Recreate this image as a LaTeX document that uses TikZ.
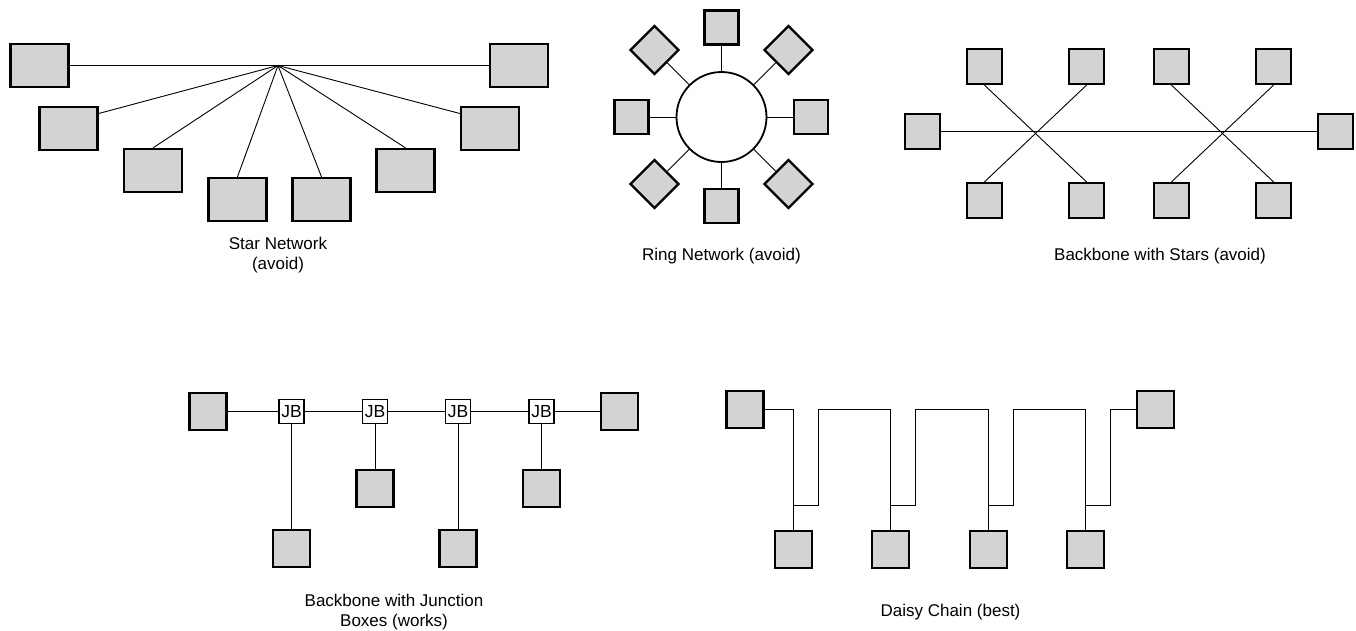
\documentclass[tikz,border=0pt]{standalone}
\usepackage{fontspec}
\setmainfont{Liberation Sans}
\definecolor{boxgray}{HTML}{D3D3D3}
\begin{document}
\begin{tikzpicture}[x=1pt,y=-1pt,
  dev/.style={draw=black,fill=boxgray,line width=2.3pt,inner sep=0pt,minimum width=#1,minimum height=#1},
  dev/.default=35pt,
  bigdev/.style={draw=black,fill=boxgray,line width=2.3pt,inner sep=0pt,minimum width=58pt,minimum height=43pt},
  wire/.style={draw=black,line width=0.9pt},
  jbox/.style={draw=black,fill=white,line width=1.8pt,inner sep=0pt,minimum width=25pt,minimum height=24pt,font=\fontsize{17.5}{18}\selectfont},
  lbl/.style={align=center,font=\fontsize{17}{20}\selectfont,inner sep=0pt}]
\useasboundingbox (0,0) rectangle (1356,630);

% ---------- Star network ----------
\node[bigdev] (s1) at (39.5,65.5) {};
\node[bigdev] (s8) at (519,65.5) {};
\node[bigdev] (s2) at (68.5,128.5) {};
\node[bigdev] (s7) at (490,128.5) {};
\node[bigdev] (s3) at (153,170.5) {};
\node[bigdev] (s6) at (405.5,170.5) {};
\node[bigdev] (s4) at (237.5,199.5) {};
\node[bigdev] (s5) at (321.5,199.5) {};
\coordinate (hub) at (278,65.5);
\draw[wire] (s1.east) -- (s8.west);
\draw[wire] (hub) -- ([yshift=15pt]s2.east);
\draw[wire] (hub) -- (s3.north);
\draw[wire] (hub) -- (s4.north);
\draw[wire] (hub) -- (s5.north);
\draw[wire] (hub) -- (s6.north);
\draw[wire] (hub) -- ([yshift=15pt]s7.west);
\node[lbl] (starlbl) at (278,255.5) {Star Network\\(avoid)};

% ---------- Ring network ----------
\node[draw=black,fill=white,circle,line width=1.8pt,minimum size=90pt,inner sep=0pt] (ring) at (721.5,117) {};
\node[dev=34pt] (rt) at (721.5,27.5) {};
\node[dev=34pt] (rb) at (721.5,206) {};
\node[dev=34pt] (rl) at (631.5,117) {};
\node[dev=34pt] (rr) at (811,117) {};
\node[dev=34pt,rotate=45] (rtl) at (654.5,50) {};
\node[dev=34pt,rotate=45] (rtr) at (788.5,50) {};
\node[dev=34pt,rotate=45] (rbl) at (654.5,184) {};
\node[dev=34pt,rotate=45] (rbr) at (788.5,184) {};
\foreach \n in {rt,rb,rl,rr,rtl,rtr,rbl,rbr} \draw[wire] (ring) -- (\n);
\node[lbl] (ringlbl) at (721.5,256.5) {Ring Network (avoid)};

% ---------- Backbone with stars ----------
\node[dev] (bl) at (922.5,131.5) {};
\node[dev] (br) at (1335.5,131.5) {};
\node[dev] (bt1) at (984.5,66.5) {};
\node[dev] (bt2) at (1086.5,66.5) {};
\node[dev] (bt3) at (1171.5,66.5) {};
\node[dev] (bt4) at (1273.5,66.5) {};
\node[dev] (bb1) at (984.5,200.5) {};
\node[dev] (bb2) at (1086.5,200.5) {};
\node[dev] (bb3) at (1171.5,200.5) {};
\node[dev] (bb4) at (1273.5,200.5) {};
\draw[wire] (bl.east) -- (br.west);
\draw[wire] (bt1.south) -- (bb2.north);
\draw[wire] (bt2.south) -- (bb1.north);
\draw[wire] (bt3.south) -- (bb4.north);
\draw[wire] (bt4.south) -- (bb3.north);
\node[lbl] (bslbl) at (1160,256.5) {Backbone with Stars (avoid)};

% ---------- Backbone with junction boxes ----------
\node[dev=37pt] (jl) at (208,411.5) {};
\node[dev=37pt] (jr) at (619.5,411.5) {};
\node[jbox] (j1) at (291.5,411.5) {JB};
\node[jbox] (j2) at (375,411.5) {JB};
\node[jbox] (j3) at (458,411.5) {JB};
\node[jbox] (j4) at (541.5,411.5) {JB};
\node[dev=37pt] (jd1) at (291.5,548.5) {};
\node[dev=37pt] (jd2) at (375,488.5) {};
\node[dev=37pt] (jd3) at (458,548.5) {};
\node[dev=37pt] (jd4) at (541.5,488.5) {};
\draw[wire] (jl) -- (j1) -- (j2) -- (j3) -- (j4) -- (jr);
\draw[wire] (j1) -- (jd1);
\draw[wire] (j2) -- (jd2);
\draw[wire] (j3) -- (jd3);
\draw[wire] (j4) -- (jd4);
\node[lbl] (jblbl) at (394,612.5) {Backbone with Junction\\Boxes (works)};

% ---------- Daisy chain ----------
\node[dev=37pt] (dtl) at (745,409.5) {};
\node[dev=37pt] (dtr) at (1155.5,409.5) {};
\node[dev=37pt] (d1) at (793.5,549.5) {};
\node[dev=37pt] (d2) at (890.5,549.5) {};
\node[dev=37pt] (d3) at (988.5,549.5) {};
\node[dev=37pt] (d4) at (1085.5,549.5) {};
\draw[wire] (dtl.east) -| (d1.north);
\draw[wire] ([yshift=24pt]d1.north) -- ++(25,0) |- (dtl.east -| d2.north) -- (d2.north);
\draw[wire] ([yshift=24pt]d2.north) -- ++(25,0) |- (dtl.east -| d3.north) -- (d3.north);
\draw[wire] ([yshift=24pt]d3.north) -- ++(25,0) |- (dtl.east -| d4.north) -- (d4.north);
\draw[wire] ([yshift=24pt]d4.north) -- ++(25,0) |- (dtr.west);
\node[lbl] (dclbl) at (950.5,612) {Daisy Chain (best)};
\end{tikzpicture}
\end{document}
